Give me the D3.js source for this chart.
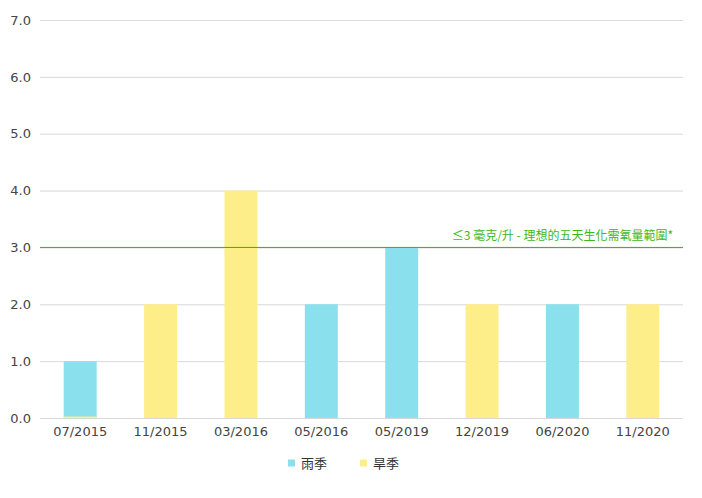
<!DOCTYPE html>
<html>
<head>
<meta charset="utf-8">
<script src="https://cdn.jsdelivr.net/npm/d3@7"></script>
<style>
  body { margin: 0; background: #fff; font-family: "DejaVu Sans", "Noto Sans CJK TC", sans-serif; }
  .axis text { fill: #444; font-size: 13px; }
</style>
</head>
<body>
<svg id="chart" width="702" height="498"></svg>
<script>
const categories = ['07/2015', '11/2015', '03/2016', '05/2016', '05/2019', '12/2019', '06/2020', '11/2020'];
const rainValues = [1.0, null, null, 2.0, 3.0, null, 2.0, null];
const dryValues = [0, 2.0, 4.0, null, null, 2.0, null, 2.0];
const yTicks = [0, 1, 2, 3, 4, 5, 6, 7];
const seriesNames = ['雨季', '旱季'];
const colours = ['#8ae0ec', '#feee8a'];
const limitValue = 3;
const limitLabel = '≤3 毫克/升 - 理想的五天生化需氧量範圍*';

let margin = { top: 20, right: 19, bottom: 80, left: 40 },
    width = 702 - margin.left - margin.right,
    height = 498 - margin.top - margin.bottom;

let svg = d3.select('#chart')
    .append('g')
    .attr('transform', `translate(${margin.left},${margin.top})`);

let xScale = d3.scaleBand()
    .domain(categories)
    .range([0, width])
    .paddingInner(0.59)
    .paddingOuter(0.295);

let yScale = d3.scaleLinear()
    .domain([0, 7])
    .range([height, 0]);

// gridlines
svg.selectAll('.grid')
    .data(yTicks)
    .enter()
    .append('line')
    .attr('x1', 0)
    .attr('x2', width)
    .attr('y1', d => yScale(d) + 0.5)
    .attr('y2', d => yScale(d) + 0.5)
    .attr('stroke', '#d9d9d9');

svg.append('g')
    .attr('class', 'y axis')
    .call(d3.axisLeft(yScale).tickValues(yTicks).tickFormat(d3.format('.1f')).tickSize(0).tickPadding(9))
    .call(g => g.select('.domain').remove())
    .selectAll('text').style('font-family', '"DejaVu Sans", sans-serif');

svg.append('g')
    .attr('class', 'x axis')
    .attr('transform', `translate(0, ${height})`)
    .call(d3.axisBottom(xScale).tickSize(0).tickPadding(9))
    .call(g => g.select('.domain').remove())
    .selectAll('text').style('font-family', '"DejaVu Sans", sans-serif');

// bars
[rainValues, dryValues].forEach((values, s) => {
    svg.selectAll('.bar' + s)
        .data(values.map((v, i) => ({ cat: categories[i], v: v })).filter(d => d.v !== null))
        .enter()
        .append('rect')
        .attr('x', d => xScale(d.cat))
        .attr('width', xScale.bandwidth())
        .attr('y', d => Math.min(yScale(d.v), height - 1.5))
        .attr('height', d => Math.max(height - yScale(d.v), 1.5))
        .attr('fill', colours[s]);
});

// limit line
svg.append('line')
    .attr('x1', 0)
    .attr('x2', width)
    .attr('y1', yScale(limitValue))
    .attr('y2', yScale(limitValue))
    .attr('stroke', '#2db800')
    .attr('stroke-width', 1);

svg.append('text')
    .attr('x', width - 10)
    .attr('y', yScale(limitValue) - 7)
    .attr('text-anchor', 'end')
    .attr('fill', '#3cb81a')
    .style('font-size', '12px')
    .style('font-family', '"Noto Sans CJK TC", sans-serif')
    .text(limitLabel);

// legend
let legend = svg.append('g')
    .attr('transform', `translate(0, ${height + 45})`);
const legendX = [248, 320];
seriesNames.forEach((name, i) => {
    legend.append('rect')
        .attr('x', legendX[i])
        .attr('y', -3.5)
        .attr('width', 7)
        .attr('height', 7)
        .attr('fill', colours[i]);
    legend.append('text')
        .attr('x', legendX[i] + 13)
        .attr('y', 0)
        .attr('dy', '0.35em')
        .attr('fill', '#333')
        .style('font-size', '13px')
        .style('font-family', '"Noto Sans CJK TC", sans-serif')
        .text(name);
});
</script>
</body>
</html>
